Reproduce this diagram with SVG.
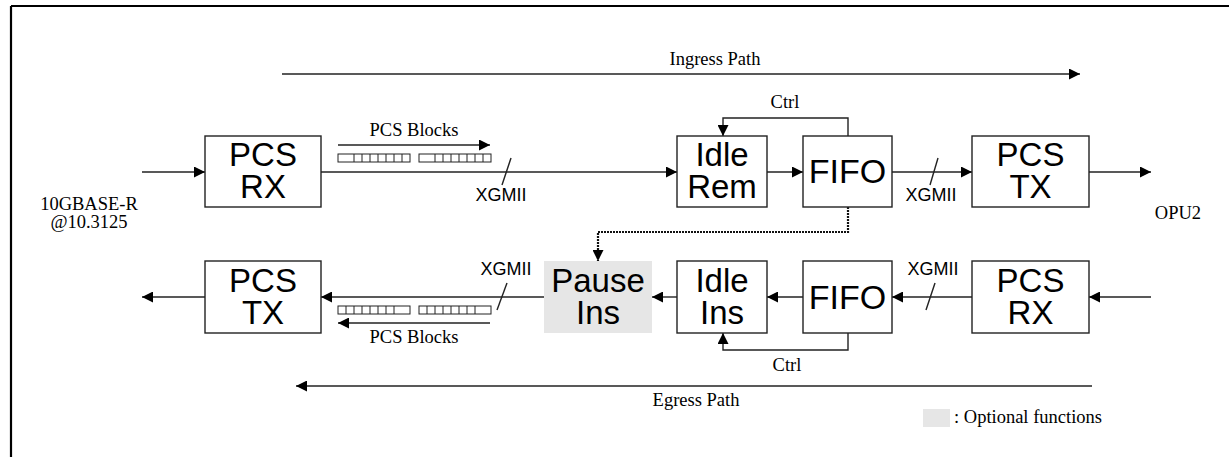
<svg xmlns="http://www.w3.org/2000/svg" width="1229" height="457" viewBox="0 0 1229 457">
<style>
.box{fill:#fff;stroke:#222;stroke-width:1.4}
.opt{fill:#e6e6e6;stroke:none}
.big{font-family:"Liberation Sans",Arial,sans-serif;font-size:33px;fill:#000;text-anchor:middle}
.sans{font-family:"Liberation Sans",Arial,sans-serif;font-size:18px;fill:#000;text-anchor:middle}
.serif{font-family:"Liberation Serif","Times New Roman",serif;font-size:18.5px;fill:#000;text-anchor:middle}
.ln{fill:none;stroke:#222;stroke-width:1.4}
.dot{fill:none;stroke:#111;stroke-width:2.2;stroke-dasharray:2 1}
.blk{fill:#fff;stroke:#222;stroke-width:1}
</style>
<defs>
<marker id="ah" viewBox="0 0 11 11" refX="11" refY="5.5" markerWidth="11" markerHeight="11" markerUnits="userSpaceOnUse" orient="auto">
<path d="M0,0 L11,5.5 L0,11 z" fill="#000"/>
</marker>
<g id="blockR">
<rect class="blk" x="0" y="0" width="72" height="8"/>
<path class="blk" d="M16,0V8M24,0V8M32,0V8M40,0V8M48,0V8M56,0V8M64,0V8"/>
</g>
<g id="blockL">
<rect class="blk" x="0" y="0" width="72" height="8"/>
<path class="blk" d="M8,0V8M16,0V8M24,0V8M32,0V8M40,0V8M48,0V8M56,0V8"/>
</g>
</defs>
<rect x="0" y="0" width="1229" height="457" fill="#fff"/>
<path d="M11,6H1229M11,6V457" fill="none" stroke="#000" stroke-width="2.2"/>

<g id="connectors">
<path class="ln" d="M282,74H1080" marker-end="url(#ah)"/>
<path class="ln" d="M1092,386H296" marker-end="url(#ah)"/>
<path class="ln" d="M142,172H205" marker-end="url(#ah)"/>
<path class="ln" d="M321,172H677" marker-end="url(#ah)"/>
<path class="ln" d="M511,158L502,185"/>
<path class="ln" d="M767,172H803" marker-end="url(#ah)"/>
<path class="ln" d="M892,172H972" marker-end="url(#ah)"/>
<path class="ln" d="M938,158L930,185"/>
<path class="ln" d="M1089,172H1151" marker-end="url(#ah)"/>
<path class="ln" d="M848,136V118H723V136" marker-end="url(#ah)"/>
<path class="ln" d="M338,145H490" marker-end="url(#ah)"/>
<path class="dot" d="M848,207V232H598V261" marker-end="url(#ah)"/>
<path class="ln" d="M1151,297H1089" marker-end="url(#ah)"/>
<path class="ln" d="M972,297H892" marker-end="url(#ah)"/>
<path class="ln" d="M935,283L926,310"/>
<path class="ln" d="M803,297H767" marker-end="url(#ah)"/>
<path class="ln" d="M677,297H652" marker-end="url(#ah)"/>
<path class="ln" d="M544,297H321" marker-end="url(#ah)"/>
<path class="ln" d="M507,283L497,310"/>
<path class="ln" d="M205,297H142" marker-end="url(#ah)"/>
<path class="ln" d="M848,333V350H723V333" marker-end="url(#ah)"/>
<path class="ln" d="M490,323H338" marker-end="url(#ah)"/>
</g>

<g id="pcs-blocks-top">
<use href="#blockR" x="338" y="154"/>
<use href="#blockR" x="419" y="154"/>
</g>
<g id="pcs-blocks-bottom">
<use href="#blockL" x="338" y="306"/>
<use href="#blockL" x="419" y="306"/>
</g>

<g id="labels">
<text class="serif" x="715" y="65">Ingress Path</text>
<text class="serif" x="696" y="406">Egress Path</text>
<text class="serif" x="414" y="136">PCS Blocks</text>
<text class="serif" x="414" y="343">PCS Blocks</text>
<text class="serif" x="785" y="108">Ctrl</text>
<text class="serif" x="787" y="371">Ctrl</text>
<text class="serif" x="89" y="210">10GBASE-R</text>
<text class="serif" x="89" y="228">@10.3125</text>
<text class="serif" x="1178" y="219">OPU2</text>
<text class="sans" x="501" y="201">XGMII</text>
<text class="sans" x="931" y="201">XGMII</text>
<text class="sans" x="506" y="275">XGMII</text>
<text class="sans" x="933" y="275">XGMII</text>
</g>

<g id="pcs-rx-top">
<rect class="box" x="205" y="136" width="116" height="71"/>
<text class="big" x="263" y="166">PCS</text>
<text class="big" x="263" y="198">RX</text>
</g>
<g id="idle-rem">
<rect class="box" x="677" y="136" width="90" height="71"/>
<text class="big" x="722" y="166">Idle</text>
<text class="big" x="722" y="198">Rem</text>
</g>
<g id="fifo-top">
<rect class="box" x="803" y="136" width="89" height="71"/>
<text class="big" x="847.5" y="183" style="font-size:34px">FIFO</text>
</g>
<g id="pcs-tx-top">
<rect class="box" x="972" y="136" width="117" height="71"/>
<text class="big" x="1030.5" y="166">PCS</text>
<text class="big" x="1030.5" y="198">TX</text>
</g>

<g id="pcs-tx-bottom">
<rect class="box" x="205" y="261" width="116" height="72"/>
<text class="big" x="263" y="292">PCS</text>
<text class="big" x="263" y="324">TX</text>
</g>
<g id="pause-ins">
<rect class="opt" x="544" y="261" width="108" height="72"/>
<text class="big" x="598" y="292">Pause</text>
<text class="big" x="598" y="324">Ins</text>
</g>
<g id="idle-ins">
<rect class="box" x="677" y="261" width="90" height="72"/>
<text class="big" x="722" y="292">Idle</text>
<text class="big" x="722" y="324">Ins</text>
</g>
<g id="fifo-bottom">
<rect class="box" x="803" y="261" width="89" height="72"/>
<text class="big" x="847.5" y="309" style="font-size:34px">FIFO</text>
</g>
<g id="pcs-rx-bottom">
<rect class="box" x="972" y="261" width="117" height="72"/>
<text class="big" x="1030.5" y="292">PCS</text>
<text class="big" x="1030.5" y="324">RX</text>
</g>

<g id="legend">
<rect class="opt" x="923" y="409" width="27" height="18"/>
<text class="serif" x="954" y="423" style="text-anchor:start">: Optional functions</text>
</g>
</svg>
